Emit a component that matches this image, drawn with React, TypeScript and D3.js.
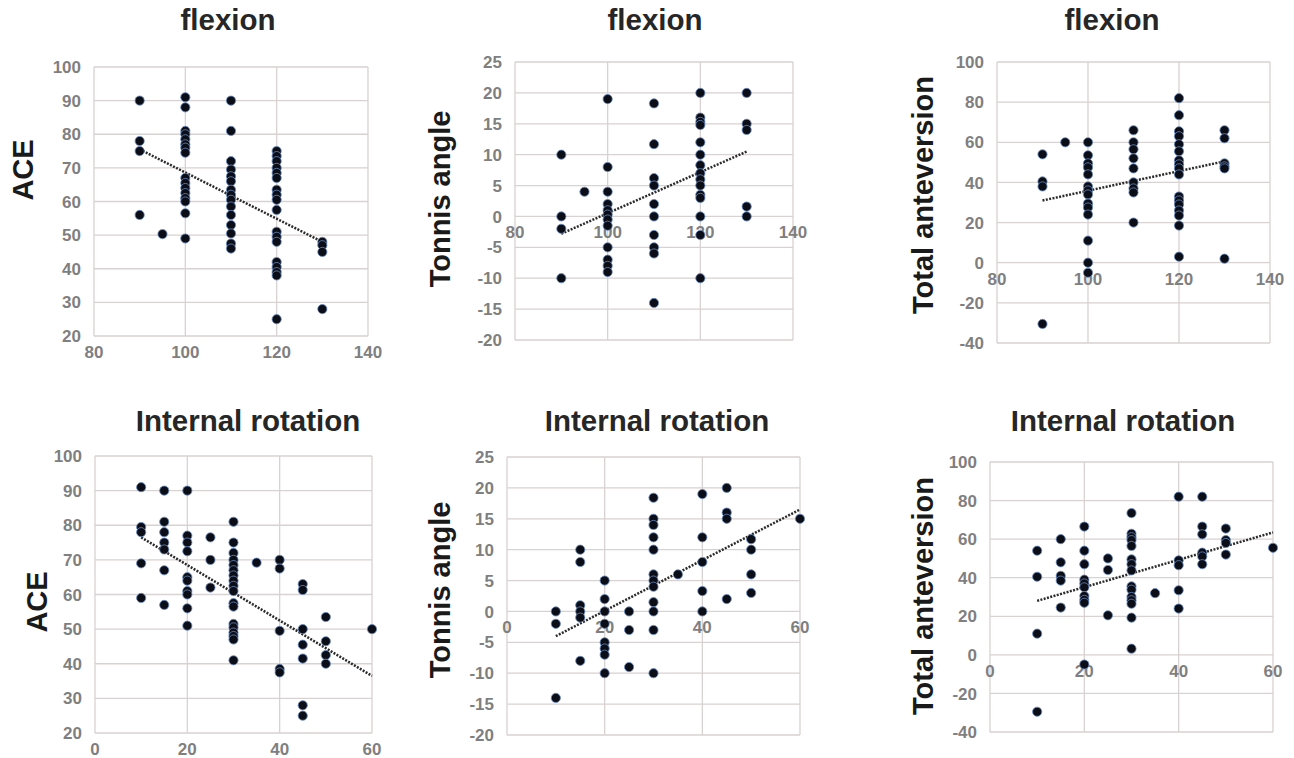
import React from 'react';
import * as d3 from 'd3';

// values, grouped by x column
const flexionAce = [
  { x: 90, ys: [90, 78, 75, 56] },
  { x: 95, ys: [50.3] },
  { x: 100, ys: [91, 88, 81, 80, 78.5, 77, 76, 74.5, 67, 65.5, 64, 62.5, 61, 60, 56.5, 49] },
  { x: 110, ys: [90, 81, 72, 69.5, 67.5, 66, 63.5, 62, 60.5, 58.5, 56, 53, 50.5, 47.5, 46] },
  { x: 120, ys: [75, 73.5, 72, 70, 68.5, 67, 63.5, 62, 60.5, 57.5, 51, 49.5, 48, 42, 40.5, 39, 38, 25] },
  { x: 130, ys: [48, 47, 45, 28] },
];
const flexionTonnis = [
  { x: 90, ys: [10, 0, -2, -10] },
  { x: 95, ys: [4] },
  { x: 100, ys: [19, 8, 4, 2, 1, 0.3, -0.5, -1.5, -5, -7, -8, -9] },
  { x: 110, ys: [18.3, 11.7, 6.2, 5, 2, 0, -3, -5, -6, -14] },
  { x: 120, ys: [20, 16, 15.3, 14.8, 12, 10, 8.3, 7, 6, 5, 3.5, 3, 0, -3, -10] },
  { x: 130, ys: [20, 15, 14, 1.6, 0] },
];
const flexionTotal = [
  { x: 90, ys: [54, 40.5, 38, -30.5] },
  { x: 95, ys: [60] },
  { x: 100, ys: [60, 53.5, 49.5, 47.5, 44, 38, 36, 34, 29.5, 27.5, 24, 11, 0, -5] },
  { x: 110, ys: [66, 60, 56.5, 52, 47, 40, 37, 35, 20] },
  { x: 120, ys: [82, 73.5, 65.5, 63, 59, 55.5, 51, 49, 47, 44, 33, 31, 29, 26, 23.5, 18.5, 3] },
  { x: 130, ys: [66, 62, 49.5, 48, 47, 2] },
];
const rotationAce = [
  { x: 10, ys: [91, 79.5, 78, 69, 59] },
  { x: 15, ys: [90, 81, 78, 75, 73, 67, 57] },
  { x: 20, ys: [90, 77, 75, 72.5, 65, 64, 61, 60, 56, 51] },
  { x: 25, ys: [76.5, 70, 62] },
  { x: 30, ys: [81, 75, 72, 70, 68.5, 67, 65.5, 64, 62.5, 61, 57.5, 56.5, 51.5, 50.5, 49, 48, 47, 41] },
  { x: 35, ys: [69.2] },
  { x: 40, ys: [70, 67.5, 49.5, 38.5, 37.5] },
  { x: 45, ys: [63, 61.3, 50, 45.5, 41.5, 28, 25] },
  { x: 50, ys: [53.5, 46.5, 42.5, 40] },
  { x: 60, ys: [50] },
];
const rotationTonnis = [
  { x: 10, ys: [0, -2, -14] },
  { x: 15, ys: [10, 8, 1, 0, -1, -8] },
  { x: 20, ys: [5, 2, 0, -2, -5, -6, -7, -10] },
  { x: 25, ys: [0, -3, -9] },
  { x: 30, ys: [18.4, 15, 14, 12, 10, 6, 5, 4, 1.5, 0, -3, -10] },
  { x: 35, ys: [6] },
  { x: 40, ys: [19, 12, 8, 3.3, 0] },
  { x: 45, ys: [20, 16, 15, 2] },
  { x: 50, ys: [11.7, 10, 6, 3] },
  { x: 60, ys: [15] },
];
const rotationTotal = [
  { x: 10, ys: [54, 40.5, 11, -29.5] },
  { x: 15, ys: [60, 48, 41, 38.5, 24.5] },
  { x: 20, ys: [66.5, 54, 47, 39, 37, 35, 30.5, 28.5, 27, -5] },
  { x: 25, ys: [50, 44, 20.5] },
  { x: 30, ys: [73.5, 62.8, 61, 59.5, 56.5, 49.5, 47, 43.8, 35.5, 33.8, 30, 28.3, 26.5, 19.3, 3.2] },
  { x: 35, ys: [32] },
  { x: 40, ys: [82, 49, 46.5, 33.5, 24] },
  { x: 45, ys: [82, 66.5, 62.5, 53, 51, 47] },
  { x: 50, ys: [65.5, 59.5, 58, 52] },
  { x: 60, ys: [55.5] },
];

// dotted trend line end points
const trendFlexionAce = [[90, 75.5], [130, 48]];
const trendFlexionTonnis = [[90, -2.8], [130, 10.5]];
const trendFlexionTotal = [[90, 31], [130, 50.5]];
const trendRotationAce = [[10, 76.5], [60, 36.5]];
const trendRotationTonnis = [[10, -4], [60, 16.5]];
const trendRotationTotal = [[10, 28], [60, 63.5]];

const flexionTicks = [80, 100, 120, 140];
const rotationTicks = [0, 20, 40, 60];
const aceTicks = [20, 30, 40, 50, 60, 70, 80, 90, 100];
const tonnisTicks = [-20, -15, -10, -5, 0, 5, 10, 15, 20, 25];
const totalTicks = [-40, -20, 0, 20, 40, 60, 80, 100];

const FONT = '"Liberation Sans", Arial, sans-serif';

const panels = [
  { title: 'flexion', yTitle: 'ACE', data: flexionAce, trend: trendFlexionAce, xTicks: flexionTicks, yTicks: aceTicks,
    box: [94, 368, 67, 336], titlePos: [228, 30], yTitlePos: [33, 170] },
  { title: 'flexion', yTitle: 'Tonnis angle', data: flexionTonnis, trend: trendFlexionTonnis, xTicks: flexionTicks, yTicks: tonnisTicks,
    box: [515, 793, 62, 340], titlePos: [655, 30], yTitlePos: [450, 199] },
  { title: 'flexion', yTitle: 'Total anteversion', data: flexionTotal, trend: trendFlexionTotal, xTicks: flexionTicks, yTicks: totalTicks,
    box: [997, 1270, 62, 343], titlePos: [1112, 30], yTitlePos: [933, 195] },
  { title: 'Internal rotation', yTitle: 'ACE', data: rotationAce, trend: trendRotationAce, xTicks: rotationTicks, yTicks: aceTicks,
    box: [95, 372, 456, 733], titlePos: [248, 431], yTitlePos: [47, 602] },
  { title: 'Internal rotation', yTitle: 'Tonnis angle', data: rotationTonnis, trend: trendRotationTonnis, xTicks: rotationTicks, yTicks: tonnisTicks,
    box: [507, 800, 457, 735], titlePos: [657, 431], yTitlePos: [450, 590] },
  { title: 'Internal rotation', yTitle: 'Total anteversion', data: rotationTotal, trend: trendRotationTotal, xTicks: rotationTicks, yTicks: totalTicks,
    box: [990, 1273, 462, 732], titlePos: [1123, 431], yTitlePos: [933, 596] },
];

const Panel = ({ p }) => {
  const [left, right, top, bottom] = p.box;
  const xScale = d3.scaleLinear().domain(d3.extent(p.xTicks)).range([left, right]);
  const yScale = d3.scaleLinear().domain(d3.extent(p.yTicks)).range([bottom, top]);
  // x labels sit under the zero line when the y range goes negative
  const axisY = yScale(Math.max(0, p.yTicks[0]));
  const points = p.data.flatMap(c => c.ys.map(y => [c.x, y]));
  const line = d3.line().x(d => xScale(d[0])).y(d => yScale(d[1]));
  const grid = '#d9d2d2';

  return (
    <g>
      {p.yTicks.map(t => (
        <line key={'gy' + t} x1={left} x2={right} y1={yScale(t)} y2={yScale(t)} stroke={grid} strokeWidth={1.3} />
      ))}
      {p.xTicks.map(t => (
        <line key={'gx' + t} x1={xScale(t)} x2={xScale(t)} y1={top} y2={bottom} stroke={grid} strokeWidth={1.3} />
      ))}
      {p.yTicks.map(t => (
        <text key={'ly' + t} x={left - 13} y={yScale(t)} dy="0.36em" textAnchor="end"
          fontFamily={FONT} fontWeight="bold" fontSize={17} fill="#7f7f7f">{t}</text>
      ))}
      {p.xTicks.map(t => (
        <text key={'lx' + t} x={xScale(t)} y={axisY + 22} textAnchor="middle"
          fontFamily={FONT} fontWeight="bold" fontSize={17} fill="#7f7f7f">{t}</text>
      ))}
      <path d={line(p.trend)} fill="none" stroke="#2b2b2b" strokeWidth={2.5} strokeDasharray="2 1.4" />
      {points.map((d, i) => (
        <circle key={i} cx={xScale(d[0])} cy={yScale(d[1])} r={4.6}
          fill="#0b0d17" stroke="#6a8cc0" strokeWidth={0.8} />
      ))}
      <text x={p.titlePos[0]} y={p.titlePos[1]} textAnchor="middle"
        fontFamily={FONT} fontWeight="bold" fontSize={29.5} fill="#262626">{p.title}</text>
      <text transform={`translate(${p.yTitlePos[0]},${p.yTitlePos[1]}) rotate(-90)`} textAnchor="middle"
        fontFamily={FONT} fontWeight="bold" fontSize={29} fill="#1a1a1a">{p.yTitle}</text>
    </g>
  );
};

const App = () => (
  <svg width={1294} height={758} style={{ position: 'absolute', left: 0, top: 0, background: '#fff' }}>
    {panels.map((p, i) => <Panel key={i} p={p} />)}
  </svg>
);

export default App;
